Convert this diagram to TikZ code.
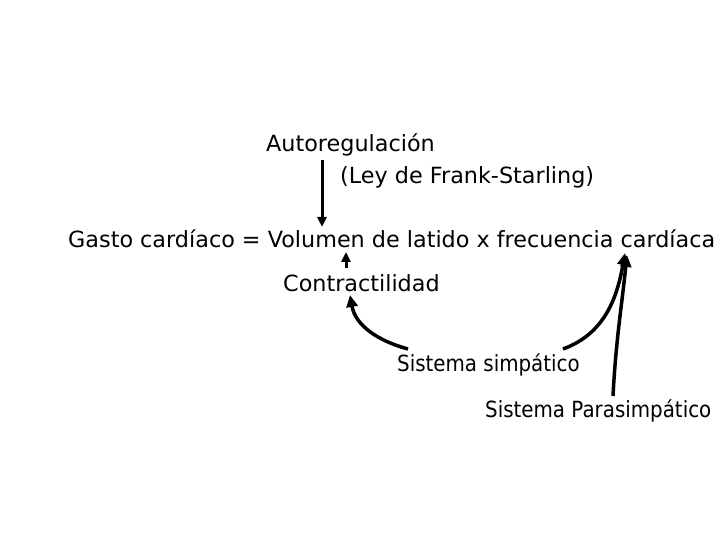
\documentclass[tikz,border=0pt]{standalone}
\usepackage{fontspec}
\setmainfont{DejaVu Sans}
\newfontfamily\narrowfont[FakeStretch=0.89]{DejaVu Sans}
\usetikzlibrary{arrows.meta}
\tikzstyle{arrow} = [-{Triangle[length=10pt,width=9pt]},line width=3pt]
\tikzstyle{curvearrow} = [-{Triangle[length=12pt,width=11pt]},line width=3.5pt]
\tikzstyle{txt} = [anchor=base west,inner sep=0pt,font=\fontsize{22.3}{26}\selectfont]
\tikzstyle{txtnarrow} = [txt,font=\narrowfont\fontsize{22.3}{26}\selectfont]

\begin{document}
\begin{tikzpicture}[x=1pt,y=1pt]
          \useasboundingbox (0,0) rectangle (720,540);
          \node[txt] at (266,388) (auto) {Autoregulación};
          \node[txt] at (340,356) (ley) {(Ley de Frank-Starling)};
          \node[txt] at (68,292) (main) {Gasto cardíaco = Volumen de latido x frecuencia cardíaca};
          \node[txt] at (283,248) (contr) {Contractilidad};
          \node[txtnarrow] at (397,168) (simp) {Sistema simpático};
          \node[txtnarrow] at (485,122) (paras) {Sistema Parasimpático};

          \draw[arrow] ([shift={(56pt,-8pt)}]auto.base west) -- ([shift={(254pt,21pt)}]main.base west);
          \draw[arrow] ([shift={(63pt,24pt)}]contr.base west) -- ([shift={(278pt,-4pt)}]main.base west);
          \draw[curvearrow] ([shift={(11pt,23pt)}]simp.base west) to [out=165, in=-80] ([shift={(67pt,-3pt)}]contr.base west);
          \draw[curvearrow] ([shift={(166pt,23pt)}]simp.base west) to [out=20, in=-100] ([shift={(557pt,-5pt)}]main.base west);
          \draw[curvearrow] ([shift={(128pt,22pt)}]paras.base west) to [out=87, in=-96] ([shift={(559pt,-7pt)}]main.base west);
        \end{tikzpicture}
\end{document}
